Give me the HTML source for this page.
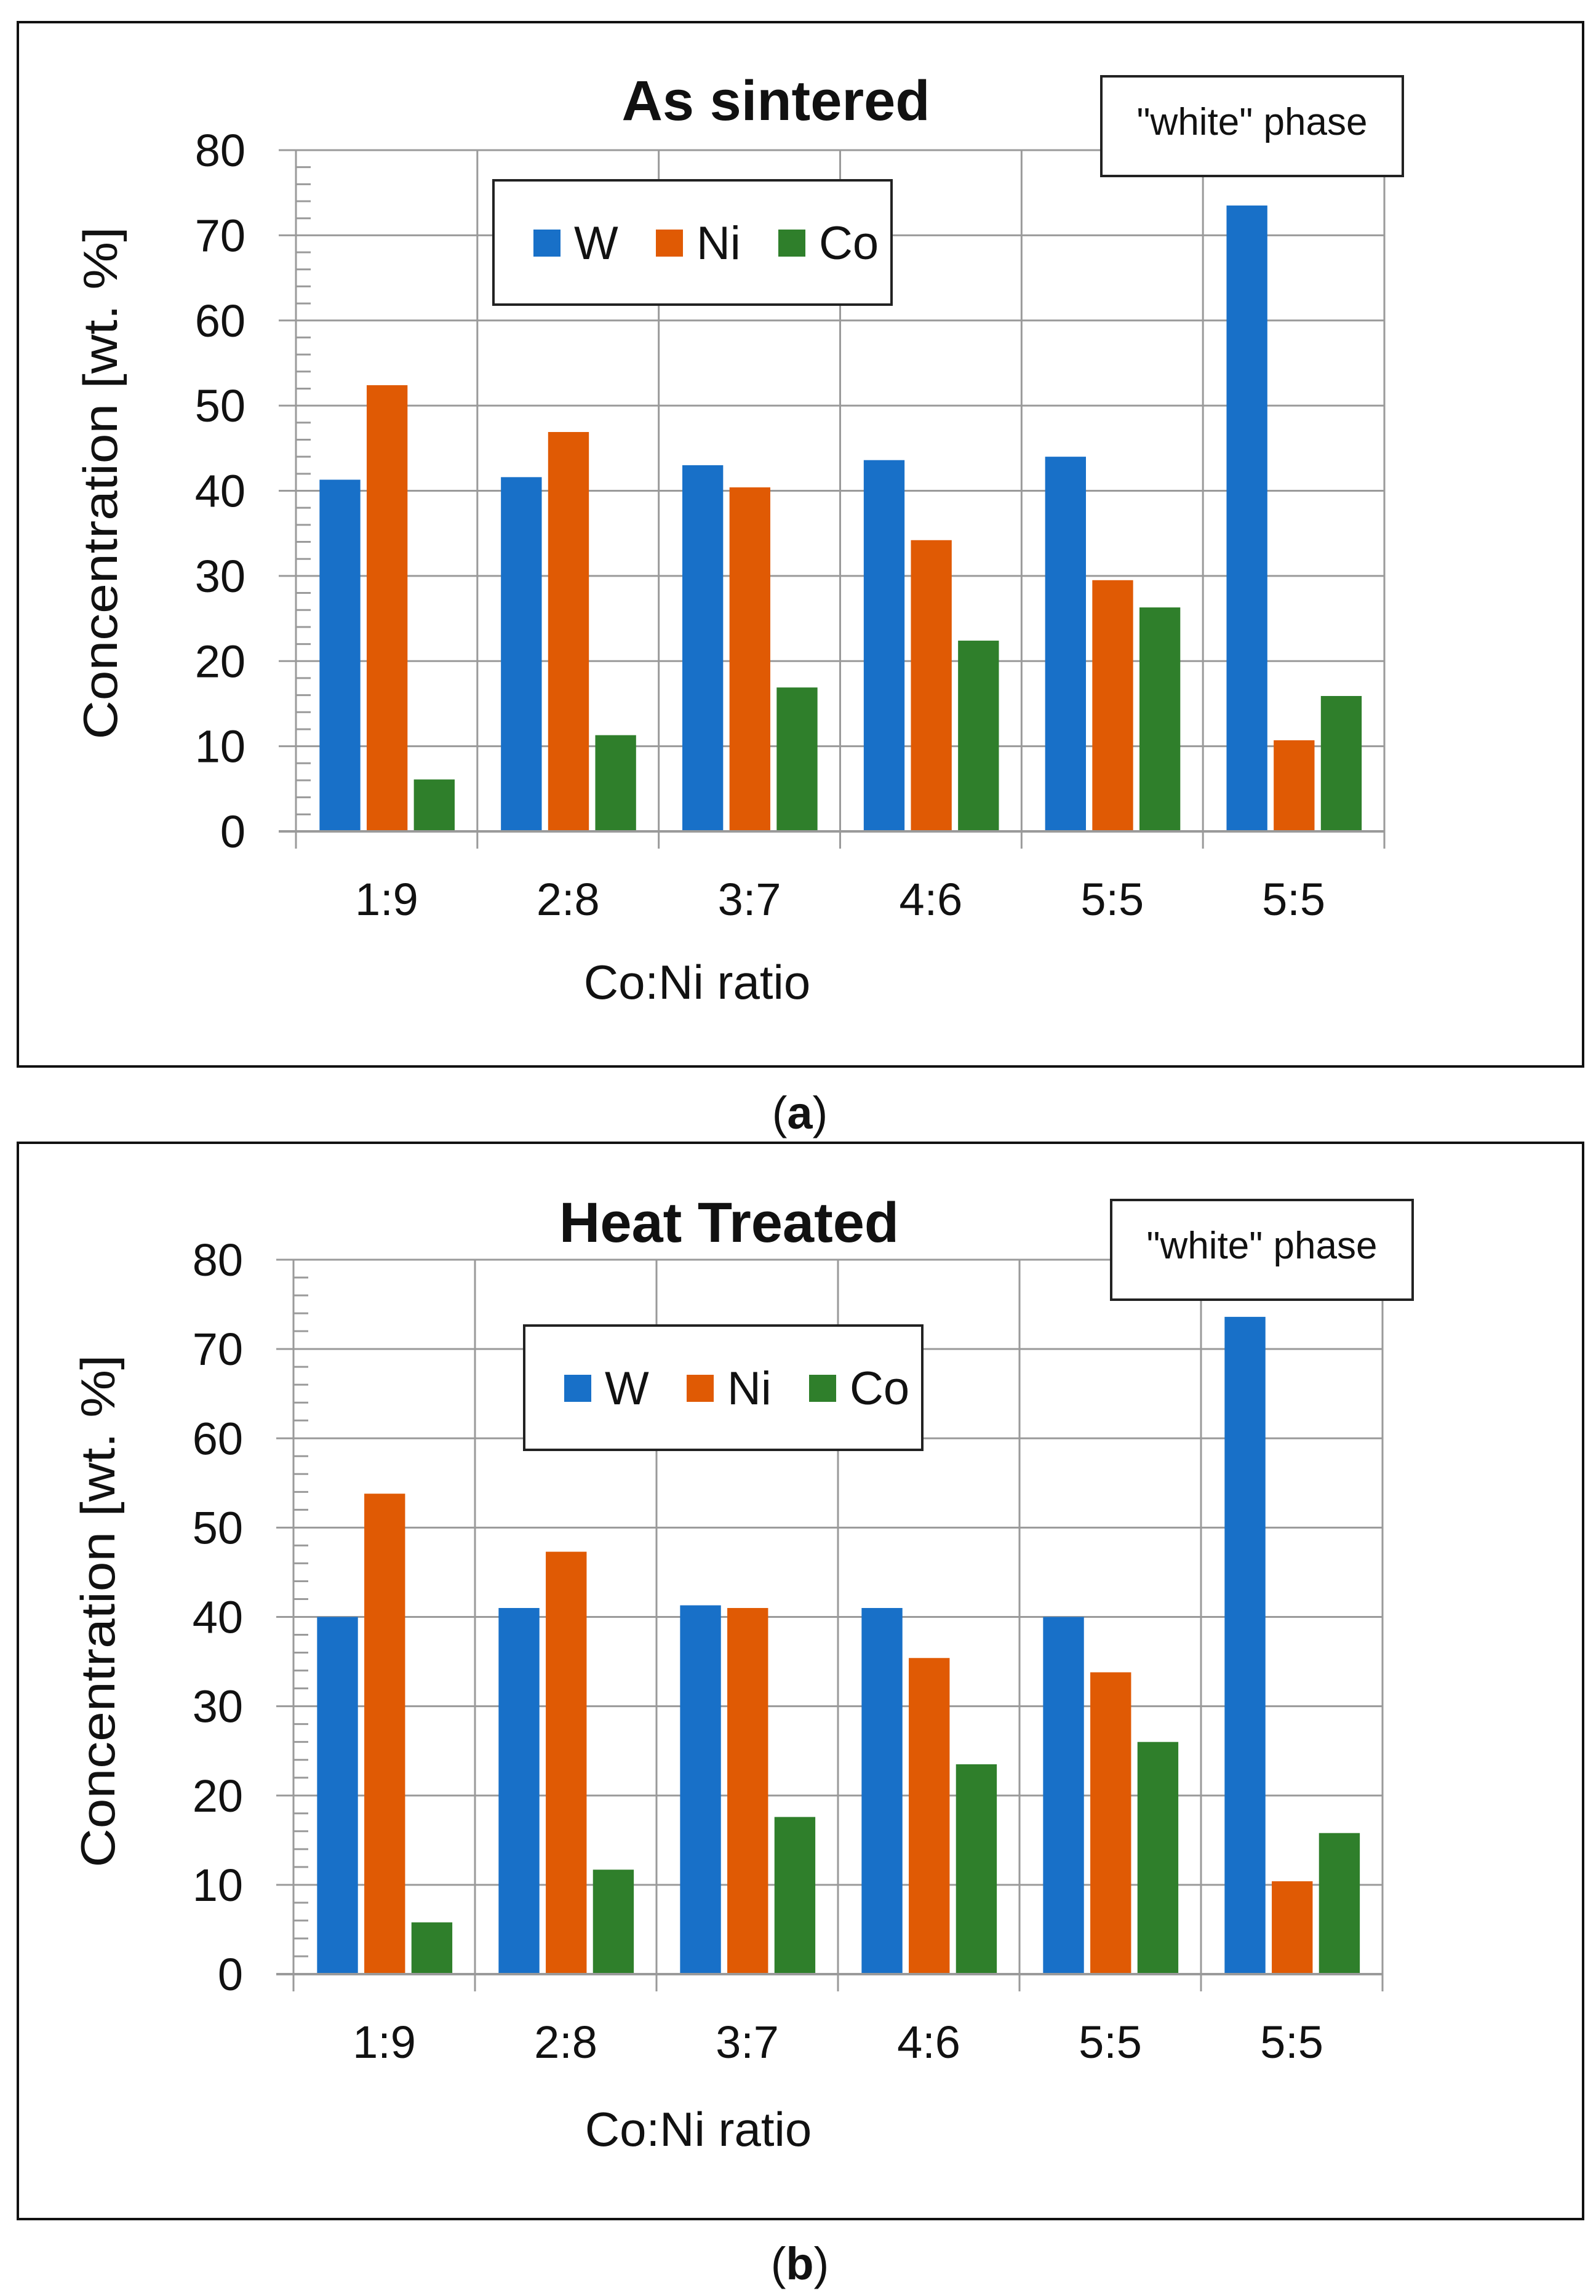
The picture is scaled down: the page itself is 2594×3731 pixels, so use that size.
<!DOCTYPE html>
<html><head><meta charset="utf-8"><style>
html,body{margin:0;padding:0;background:#fff}
svg{display:block}
text{font-family:"Liberation Sans",sans-serif}
</style></head><body>
<svg id="fig" width="2594" height="3731" viewBox="0 0 2594 3731" xmlns="http://www.w3.org/2000/svg">
<rect x="0" y="0" width="2594" height="3731" fill="#fff"/>
</svg>
<script>
const categories = ["1:9","2:8","3:7","4:6","5:5","5:5"];
const seriesNames = ["W","Ni","Co"];
const yTicks = [0,10,20,30,40,50,60,70,80];
const sinteredW = [41.3,41.6,43.0,43.6,44.0,73.5];
const sinteredNi = [52.4,46.9,40.4,34.2,29.5,10.7];
const sinteredCo = [6.1,11.3,16.9,22.4,26.3,15.9];
const heatW = [40.0,41.0,41.3,41.0,40.0,73.6];
const heatNi = [53.8,47.3,41.0,35.4,33.8,10.4];
const heatCo = [5.8,11.7,17.6,23.5,26.0,15.8];

const NS = "http://www.w3.org/2000/svg";
const svg = document.getElementById('fig');
const colors = ["#1870c8","#e05a04","#2f7f2b"];
const gridColor = '#9a9a9a';
function mk(tag, attrs, parent){
  const e = document.createElementNS(NS, tag);
  for (const k in attrs) e.setAttribute(k, attrs[k]);
  (parent||svg).appendChild(e);
  return e;
}

function drawChart(L, vals, suffix){
  const g = mk('g', {});
  
  
  const frame = mk('rect', {x:L.fx, y:L.fy, width:L.fw, height:L.fh, fill:'none', stroke:'#111', 'stroke-width':4}, g);
  
  
  const yMax = 80;
  const ys = v => L.y0 - (v / yMax) * (L.y0 - L.y80);
  const cw = (L.x1 - L.x0) / categories.length;
  const xs = i => L.x0 + i * cw;
  yTicks.forEach(t => {
    if (t === 0) return;
    const ln = mk('line', {x1:L.x0-28, x2:L.x1, y1:ys(t), y2:ys(t), stroke:gridColor, 'stroke-width':3}, g);
    
    
  });
  for (let i = 1; i <= categories.length; i++) {
    const ln = mk('line', {x1:xs(i), x2:xs(i), y1:L.y80, y2:L.y0+28, stroke:gridColor, 'stroke-width':3}, g);
    
    
  }
  for (let v = 2; v < yMax; v += 2) {
    if (v % 10 === 0) continue;
    const ln = mk('line', {x1:L.x0, x2:L.x0+24, y1:ys(v), y2:ys(v), stroke:gridColor, 'stroke-width':3}, g);
    
    
  }
  const bw = cw * 0.225, gap = cw * 0.035, off = cw * 0.13;
  vals.forEach((arr, s) => {
    arr.forEach((v, i) => {
      const x = xs(i) + off + s * (bw + gap);
      const r = mk('rect', {x:x, y:ys(v), width:bw, height:ys(0)-ys(v), fill:colors[s]}, g);
      
      
    });
  });
  const ya = mk('line', {x1:L.x0, x2:L.x0, y1:L.y80, y2:L.y0+28, stroke:gridColor, 'stroke-width':3}, g);
  
  
  const xa = mk('line', {x1:L.x0-28, x2:L.x1, y1:L.y0, y2:L.y0, stroke:gridColor, 'stroke-width':4}, g);
  
  
  yTicks.forEach(t => {
    const tx = mk('text', {x:L.x0-82, y:ys(t)+26, 'text-anchor':'end', 'font-size':74, fill:'#111'}, g);
    tx.textContent = t;
    
    
  });
  categories.forEach((c, i) => {
    const tx = mk('text', {x:xs(i)+cw/2, y:L.xlab, 'text-anchor':'middle', 'font-size':74, fill:'#111'}, g);
    tx.textContent = c;
    
    
  });
  const xt = mk('text', {x:L.xtx, y:L.xty, 'text-anchor':'middle', 'font-size':78, fill:'#111'}, g);
  xt.textContent = 'Co:Ni ratio';
  
  
  const yt = mk('text', {x:0, y:0, 'text-anchor':'middle', 'font-size':78, fill:'#111', 'font-family':'DejaVu Sans, sans-serif', textLength:833, lengthAdjust:'spacingAndGlyphs', transform:`translate(${L.ytx},${L.yty}) rotate(-90)`}, g);
  yt.textContent = 'Concentration  [wt. %]';
  
  
  const tt = mk('text', {x:L.tx, y:L.ty, 'text-anchor':'middle', 'font-size':92, 'font-weight':'bold', fill:'#111'}, g);
  tt.textContent = L.title;
  
  
  const wb = mk('rect', {x:L.wx, y:L.wy, width:490, height:162, fill:'#fff', stroke:'#222', 'stroke-width':4}, g);
  
  
  const wt = mk('text', {x:L.wx+245, y:L.wy+95, 'text-anchor':'middle', 'font-size':62, fill:'#111'}, g);
  wt.textContent = '"white" phase';
  
  
  const lg = mk('rect', {x:L.lx, y:L.ly, width:647, height:202, fill:'#fff', stroke:'#222', 'stroke-width':4}, g);
  
  
  seriesNames.forEach((n, s) => {
    const sx = L.lx + 65 + s * 199;
    const sq = mk('rect', {x:sx, y:L.ly+80, width:44, height:44, fill:colors[s]}, g);
    
    
    const lt = mk('text', {x:sx+66, y:L.ly+128, 'font-size':76, fill:'#111'}, g);
    lt.textContent = n;
    
    
  });
  const cap = mk('text', {x:1300, y:L.capy, 'text-anchor':'middle', 'font-size':74, fill:'#111', 'font-family':'Liberation Serif, serif'}, svg);
  cap.innerHTML = '(<tspan font-weight="bold">' + suffix + '</tspan>)';
  
  
}

drawChart({fx:29,fy:36,fw:2544,fh:1697,x0:481,x1:2250,y0:1351,y80:244,xlab:1487,xtx:1133,xty:1623,ytx:190,yty:785,tx:1261,ty:195,title:'As sintered',wx:1790,wy:124,lx:802,ly:293,capy:1834},
  [sinteredW, sinteredNi, sinteredCo], 'a');
drawChart({fx:29,fy:1857,fw:2544,fh:1749,x0:477,x1:2247,y0:3208,y80:2047,xlab:3344,xtx:1135,xty:3487,ytx:186,yty:2618,tx:1185,ty:2018,title:'Heat Treated',wx:1806,wy:1950,lx:852,ly:2154,capy:3704},
  [heatW, heatNi, heatCo], 'b');
</script>
</body></html>
